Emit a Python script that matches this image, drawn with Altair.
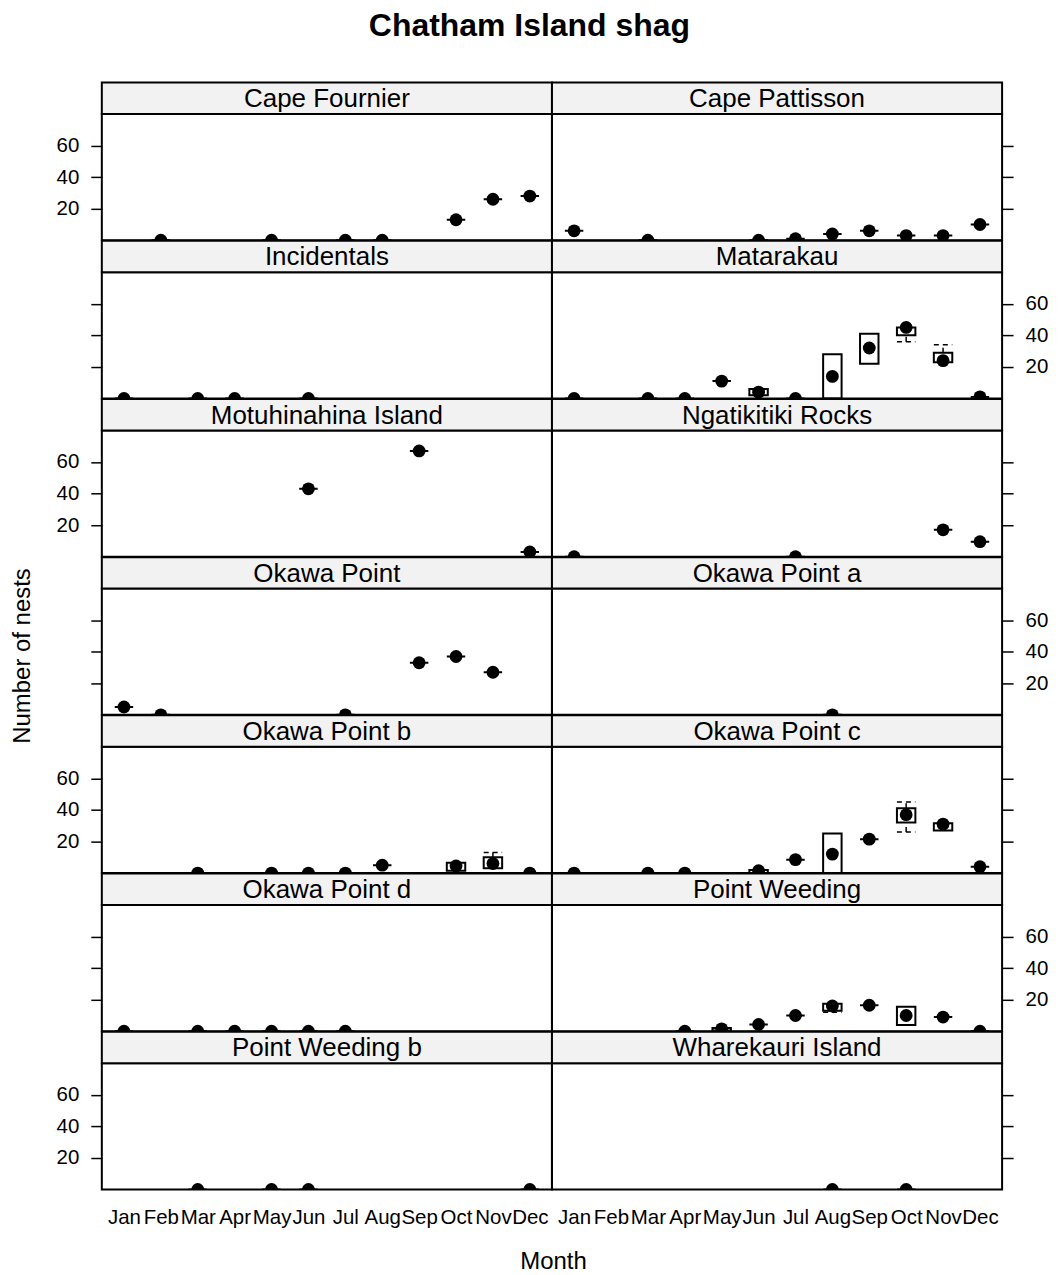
import json
import altair as alt
import pandas as pd

MONTHS = ["Jan", "Feb", "Mar", "Apr", "May", "Jun", "Jul", "Aug", "Sep", "Oct", "Nov", "Dec"]

SITES = [
    "Cape Fournier", "Cape Pattisson", "Incidentals", "Matarakau",
    "Motuhinahina Island", "Ngatikitiki Rocks", "Okawa Point", "Okawa Point a",
    "Okawa Point b", "Okawa Point c", "Okawa Point d", "Point Weeding",
    "Point Weeding b", "Wharekauri Island",
]

# one row per site-month: median, box (q1..q3) and whisker ends (lo..hi)
OBS_SITE = (
    ["Cape Fournier"] * 7
    + ["Cape Pattisson"] * 9
    + ["Incidentals"] * 4
    + ["Matarakau"] * 11
    + ["Motuhinahina Island"] * 3
    + ["Ngatikitiki Rocks"] * 4
    + ["Okawa Point"] * 6
    + ["Okawa Point a"] * 1
    + ["Okawa Point b"] * 8
    + ["Okawa Point c"] * 10
    + ["Okawa Point d"] * 6
    + ["Point Weeding"] * 9
    + ["Point Weeding b"] * 4
    + ["Wharekauri Island"] * 2
)
OBS_MONTH = (
    [2, 5, 7, 8, 10, 11, 12]
    + [1, 3, 6, 7, 8, 9, 10, 11, 12]
    + [1, 3, 4, 6]
    + [1, 3, 4, 5, 6, 7, 8, 9, 10, 11, 12]
    + [6, 9, 12]
    + [1, 7, 11, 12]
    + [1, 2, 7, 9, 10, 11]
    + [8]
    + [3, 5, 6, 7, 8, 10, 11, 12]
    + [1, 3, 4, 6, 7, 8, 9, 10, 11, 12]
    + [1, 3, 4, 5, 6, 7]
    + [4, 5, 6, 7, 8, 9, 10, 11, 12]
    + [3, 5, 6, 12]
    + [8, 10]
)
OBS_MEDIAN = (
    [0, 0, 0, 0, 13, 26, 28]
    + [6, 0, 0, 1, 4, 6, 3, 3, 10]
    + [0, 0, 0, 0]
    + [0, 0, 0, 11, 4, 0, 14, 32, 45, 24, 1]
    + [43, 67, 3]
    + [0, 0, 17, 9.5]
    + [5, 0, 0, 33, 37, 27]
    + [0]
    + [0, 0, 0, 0, 5, 4.5, 6, 0]
    + [0, 0, 0, 1.5, 8.5, 12, 21.5, 37, 31, 4]
    + [0, 0, 0, 0, 0, 0]
    + [0, 1.5, 4.3, 10, 16, 16.5, 10, 9, 0]
    + [0, 0, 0, 0]
    + [0, 0]
)
OBS_Q1 = (
    [0, 0, 0, 0, 13, 26, 28]
    + [6, 0, 0, 1, 4, 6, 3, 3, 10]
    + [0, 0, 0, 0]
    + [0, 0, 0, 11, 2, 0, 0, 22, 40, 23, 1]
    + [43, 67, 3]
    + [0, 0, 17, 9.5]
    + [5, 0, 0, 33, 37, 27]
    + [0]
    + [0, 0, 0, 0, 5, 1.5, 3, 0]
    + [0, 0, 0, 0, 8.5, 0, 21.5, 32, 27, 4]
    + [0, 0, 0, 0, 0, 0]
    + [0, 0.5, 4.3, 10, 13, 16.5, 4, 9, 0]
    + [0, 0, 0, 0]
    + [0, 0]
)
OBS_Q3 = (
    [0, 0, 0, 0, 13, 26, 28]
    + [6, 0, 0, 1, 4, 6, 3, 3, 10]
    + [0, 0, 0, 0]
    + [0, 0, 0, 11, 6, 0, 28, 41, 45, 29, 1]
    + [43, 67, 3]
    + [0, 0, 17, 9.5]
    + [5, 0, 0, 33, 37, 27]
    + [0]
    + [0, 0, 0, 0, 5, 6.5, 10, 0]
    + [0, 0, 0, 2, 8.5, 25, 21.5, 41, 31.5, 4]
    + [0, 0, 0, 0, 0, 0]
    + [0, 2, 4.3, 10, 17.5, 16.5, 15.5, 9, 0]
    + [0, 0, 0, 0]
    + [0, 0]
)
OBS_LO = (
    [0, 0, 0, 0, 13, 26, 28]
    + [6, 0, 0, 1, 4, 6, 3, 3, 10]
    + [0, 0, 0, 0]
    + [0, 0, 0, 11, 2, 0, 0, 22, 36, 23, 1]
    + [43, 67, 3]
    + [0, 0, 17, 9.5]
    + [5, 0, 0, 33, 37, 27]
    + [0]
    + [0, 0, 0, 0, 5, 1.5, 3, 0]
    + [0, 0, 0, 0, 8.5, 0, 21.5, 26, 27, 4]
    + [0, 0, 0, 0, 0, 0]
    + [0, 0.5, 4.3, 10, 12, 16.5, 4, 9, 0]
    + [0, 0, 0, 0]
    + [0, 0]
)
OBS_HI = (
    [0, 0, 0, 0, 13, 26, 28]
    + [6, 0, 0, 1, 4, 6, 3, 3, 10]
    + [0, 0, 0, 0]
    + [0, 0, 0, 11, 6, 0, 28, 41, 45, 34, 1]
    + [43, 67, 3]
    + [0, 0, 17, 9.5]
    + [5, 0, 0, 33, 37, 27]
    + [0]
    + [0, 0, 0, 0, 5, 6.5, 13, 0]
    + [0, 0, 0, 2, 8.5, 25, 21.5, 45, 31.5, 4]
    + [0, 0, 0, 0, 0, 0]
    + [0, 2, 4.3, 10, 17.5, 16.5, 15.5, 9, 0]
    + [0, 0, 0, 0]
    + [0, 0]
)

Y_TICKS = [20, 40, 60]

df = pd.DataFrame({
    "site": OBS_SITE, "m": OBS_MONTH, "median": OBS_MEDIAN,
    "q1": OBS_Q1, "q3": OBS_Q3, "lo": OBS_LO, "hi": OBS_HI,
})

FONT = "Liberation Sans"
W, H, STRIP = 451, 126.5, 31.5
LW = 2
label_expr = json.dumps(MONTHS) + "[datum.value - 1]"

xscale = alt.Scale(domain=[0.4, 12.6], nice=False, zero=False)
yscale = alt.Scale(domain=[0, 80], nice=False, zero=False)


def make_cell(i, site):
    row, col = divmod(i, 2)
    sub = df[df.site == site]

    if row == 6:
        xkw = dict(values=list(range(1, 13)), labelExpr=label_expr, ticks=False, tickSize=0,
                   domain=False, grid=False, labelFontSize=20.5, labelFont=FONT,
                   labelColor="black", labelPadding=18, labelOverlap=False, labelFlush=False)
        if col == 0:
            xkw.update(title="Month", titleX=452, titleY=72.5, titleAlign="center",
                       titleBaseline="middle", titleFontSize=24, titleFont=FONT,
                       titleFontWeight="normal", titleColor="black")
        else:
            xkw.update(title="")
        xaxis = alt.Axis(**xkw)
    else:
        xaxis = None

    show_labels = (row % 2 == 0) if col == 0 else (row % 2 == 1)
    ykw = dict(orient="left" if col == 0 else "right", values=Y_TICKS, tickSize=11,
               tickWidth=1.5, tickColor="black", domain=False, grid=False,
               labels=show_labels, labelFontSize=20.5, labelFont=FONT, labelColor="black",
               labelPadding=12)
    if col == 0 and row == 3:
        ykw.update(title="Number of nests", titleX=-79, titleY=67, titleAngle=270,
                   titleAlign="center", titleBaseline="middle", titleFontSize=24,
                   titleFont=FONT, titleFontWeight="normal", titleColor="black")
    else:
        ykw.update(title="")
    yaxis = alt.Axis(**ykw)

    def X(field):
        return alt.X(field, scale=xscale, axis=xaxis)

    def Y(field):
        return alt.Y(field, scale=yscale, axis=yaxis)

    base = alt.Chart(sub).transform_calculate(
        x1="datum.m - 0.25", x2="datum.m + 0.25"
    )

    box = base.mark_rect(fill="transparent", stroke="black", strokeWidth=LW, clip=True).encode(
        x=X("x1:Q"), x2="x2:Q", y=Y("q1:Q"), y2="q3:Q"
    )
    w_lo = base.transform_filter("datum.lo < datum.q1").mark_rule(
        color="black", strokeWidth=1.5, strokeDash=[5, 4], clip=True
    ).encode(x=X("m:Q"), y=Y("lo:Q"), y2="q1:Q")
    w_hi = base.transform_filter("datum.hi > datum.q3").mark_rule(
        color="black", strokeWidth=1.5, strokeDash=[5, 4], clip=True
    ).encode(x=X("m:Q"), y=Y("q3:Q"), y2="hi:Q")
    c_lo = base.transform_filter("datum.lo < datum.q1").mark_rule(
        color="black", strokeWidth=1.5, strokeDash=[5, 4], clip=True
    ).encode(x=X("x1:Q"), x2="x2:Q", y=Y("lo:Q"))
    c_hi = base.transform_filter("datum.hi > datum.q3").mark_rule(
        color="black", strokeWidth=1.5, strokeDash=[5, 4], clip=True
    ).encode(x=X("x1:Q"), x2="x2:Q", y=Y("hi:Q"))
    pts = base.mark_circle(size=165, color="black", opacity=1, clip=True).encode(
        x=X("m:Q"), y=Y("median:Q")
    )

    strip_src = alt.Data(values=[{"site": site}])
    strip_bg = alt.Chart(strip_src).mark_rect(
        fill="#f2f2f2", stroke="black", strokeWidth=LW
    ).encode(x=alt.value(0), x2=alt.value(W), y=alt.value(-STRIP), y2=alt.value(0))
    strip_txt = alt.Chart(strip_src).mark_text(
        font=FONT, fontSize=26, color="black", baseline="middle", align="center"
    ).encode(x=alt.value(W / 2), y=alt.value(-STRIP / 2 + 1), text="site:N")

    return alt.layer(box, w_lo, w_hi, c_lo, c_hi, pts, strip_bg, strip_txt).properties(
        width=W, height=H
    )


cells = [make_cell(i, s) for i, s in enumerate(SITES)]

chart = alt.concat(
    *cells, columns=2, spacing={"row": STRIP, "column": 0}, bounds="flush"
).properties(
    title=alt.TitleParams(
        "Chatham Island shag", fontSize=32, font=FONT, fontWeight="bold",
        color="black", anchor="middle", offset=38
    ),
    padding={"left": 2, "top": 0, "right": 2, "bottom": 4},
).configure_view(
    stroke="black", strokeWidth=LW
)

chart.save("out.html", embed_options={"renderer": "svg", "actions": False})
